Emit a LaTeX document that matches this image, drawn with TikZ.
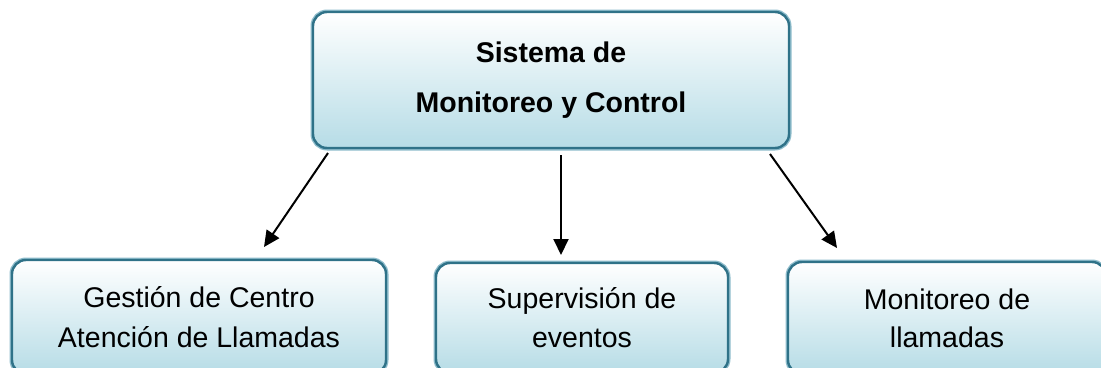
\documentclass[tikz,border=0pt]{standalone}
\usepackage{fontspec}
\setmainfont{Liberation Sans}
\usetikzlibrary{arrows.meta}
\definecolor{boxedge}{HTML}{2F7288}
\definecolor{boxglow}{HTML}{8DBCCB}
\definecolor{boxfill}{HTML}{B6DCE6}
\tikzset{
    modulo/.style={rectangle, rounded corners=14pt, draw=boxedge, line width=2.4pt,
        top color=white, bottom color=boxfill, align=center, inner sep=0pt,
        preaction={draw=boxglow, line width=5pt}},
    flecha/.style={-{Triangle[length=16pt, width=15pt]}, line width=2pt}
}
\begin{document}
\begin{tikzpicture}[x=1pt, y=-1pt]
        \useasboundingbox (0,0) rectangle (1101,367);
        \clip (0,0) rectangle (1101,367);
        % Nodes
        \node[modulo, minimum width=476pt, minimum height=136pt,
              font=\fontsize{28.5}{50}\selectfont\bfseries] (S) at (551, 80) {Sistema de\\Monitoreo y Control};
        \node[modulo, minimum width=374pt, minimum height=114pt,
              font=\fontsize{28.5}{40}\selectfont] (G) at (199, 317) {Gestión de Centro\\Atención de Llamadas};
        \node[modulo, minimum width=292pt, minimum height=110pt,
              font=\fontsize{28.5}{39}\selectfont] (E) at (582, 318) {Supervisión de\\eventos};
        \node[modulo, minimum width=318pt, minimum height=112pt,
              font=\fontsize{28.5}{38}\selectfont] (L) at (947, 318) {Monitoreo de\\llamadas};

        % Edges
        \coordinate (a1) at (328, 153);
        \coordinate (a2) at (264, 247);
        \coordinate (b1) at (561, 155);
        \coordinate (b2) at (561, 255);
        \coordinate (c1) at (770, 154);
        \coordinate (c2) at (837, 248);
        \draw[flecha] (a1) -- (a2);
        \draw[flecha] (b1) -- (b2);
        \draw[flecha] (c1) -- (c2);
    \end{tikzpicture}
\end{document}
